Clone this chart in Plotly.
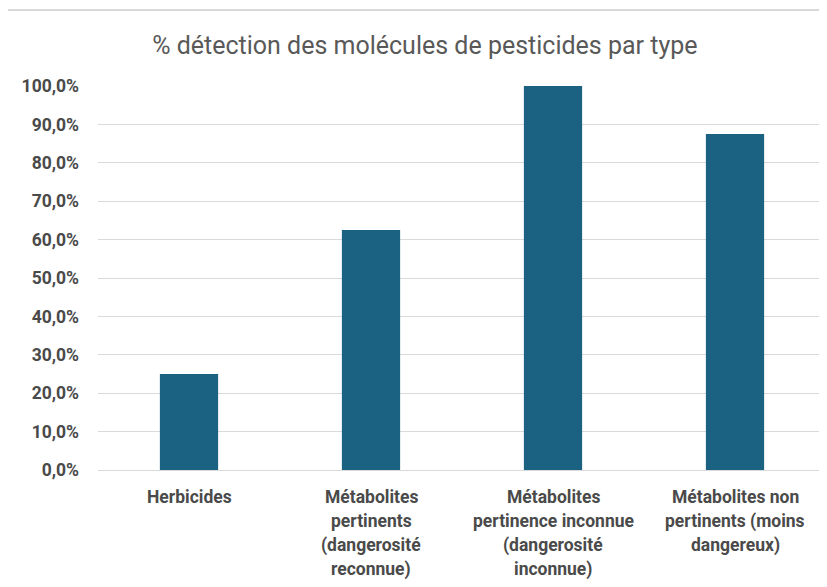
import plotly.graph_objects as go

categories = ["Herbicides", "Métabolites pertinents", "Métabolites pertinence inconnue", "Métabolites non pertinents"]
label_lines = [
    ["Herbicides"],
    ["Métabolites", "pertinents", "(dangerosité", "reconnue)"],
    ["Métabolites", "pertinence inconnue", "(dangerosité", "inconnue)"],
    ["Métabolites non", "pertinents (moins", "dangereux)"],
]
values = [0.25, 0.625, 1.0, 0.875]
y_ticks = [0, 0.1, 0.2, 0.3, 0.4, 0.5, 0.6, 0.7, 0.8, 0.9, 1.0]

FONT = "Roboto, Arial, sans-serif"

fig = go.Figure()
fig.add_trace(go.Bar(x=categories, y=values, marker_color="#1a6182", width=0.32,
                     marker_line_width=0))

annotations = []
for cat, lines in zip(categories, label_lines):
    for i, line in enumerate(lines):
        annotations.append(dict(x=cat, xref="x", y=0, yref="paper", yanchor="middle",
                                text="<b>" + line + "</b>", showarrow=False,
                                yshift=-(27 + 24.3 * i),
                                font=dict(family=FONT, size=17.5, color="#4a4a4a")))

fig.update_layout(
    width=819, height=579,
    margin=dict(l=90, r=1, t=78, b=117),
    paper_bgcolor="white", plot_bgcolor="white",
    separators=", ",
    showlegend=False,
    title=dict(text="% détection des molécules de pesticides par type",
               x=0.509, xanchor="center", y=0.936, yanchor="middle",
               font=dict(family=FONT, size=25, color="#595959")),
    xaxis=dict(showticklabels=False, showgrid=False, zeroline=False, showline=False, ticks=""),
    yaxis=dict(range=[0, 1.0001], tickvals=y_ticks, tickformat=".1%",
               showgrid=True, gridcolor="#d9d9d9", gridwidth=1,
               zeroline=True, zerolinecolor="#d9d9d9", zerolinewidth=1,
               showline=False, ticks="", ticklabelstandoff=18,
               tickfont=dict(family=FONT, size=17.5, color="#4a4a4a", weight="bold")),
    annotations=annotations,
    shapes=[dict(type="rect", xref="paper", yref="paper",
                 x0=-0.125, x1=1.2, y0=-0.5, y1=1.198,
                 line=dict(color="#d9d9d9", width=2), fillcolor="rgba(0,0,0,0)", layer="below")],
)

fig.write_html("out.html")
